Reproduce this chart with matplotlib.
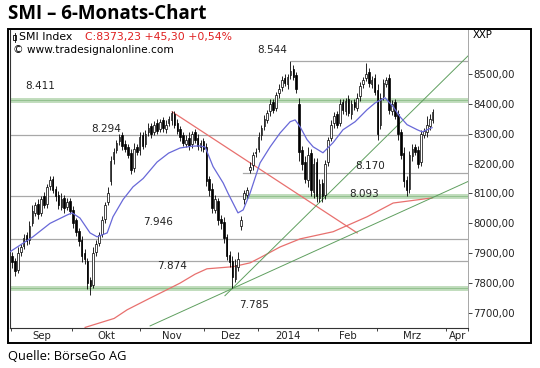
import numpy as np
import matplotlib.pyplot as plt
from matplotlib.patches import Rectangle

# daily candles (index = trading day)
closes = [7870, 7840, 7900, 7920, 7950, 7940, 7990, 8040, 8060, 8030,
          8080, 8060, 8120, 8145, 8110, 8090, 8060, 8080, 8050, 8070,
          8040, 8000, 7970, 7940, 7890, 7880, 7800, 7790, 7900, 7930,
          7960, 8010, 8060, 8100, 8210, 8240, 8270, 8290, 8260, 8250,
          8230, 8180, 8250, 8240, 8290, 8260, 8300, 8320, 8300, 8330,
          8310, 8340, 8320, 8330, 8350, 8370, 8330, 8310, 8290, 8270,
          8280, 8260, 8300, 8280, 8260, 8270, 8250, 8140, 8110, 8050,
          8080, 8010, 8000, 7950, 7890, 7870, 7820, 7860, 7880, 8010,
          8100, 8110, 8190, 8230, 8240, 8290, 8320, 8350, 8370, 8400,
          8380, 8430, 8450, 8480, 8470, 8490, 8510, 8490, 8450, 8240,
          8200, 8150, 8230, 8110, 8200, 8090, 8130, 8090, 8200, 8280,
          8330, 8360, 8330, 8400, 8380, 8410, 8370, 8400, 8390, 8420,
          8460, 8480, 8500, 8470, 8480, 8440, 8300, 8420, 8470, 8480,
          8380, 8400, 8360, 8300, 8230, 8140, 8110, 8230, 8250, 8240,
          8200, 8300, 8310, 8330, 8350, 8373.23]
opens = [7890, 7875, 7845, 7905, 7925, 7960, 7945, 8000, 8035, 8065,
         8035, 8090, 8065, 8125, 8150, 8115, 8095, 8055, 8085, 8055,
         8075, 8045, 8010, 7975, 7945, 7900, 7875, 7810, 7795, 7905,
         7935, 7965, 8015, 8070, 8140, 8215, 8245, 8275, 8295, 8265,
         8255, 8235, 8185, 8255, 8245, 8295, 8265, 8305, 8325, 8305,
         8335, 8315, 8345, 8315, 8335, 8345, 8365, 8335, 8315, 8295,
         8265, 8285, 8265, 8305, 8285, 8255, 8275, 8255, 8150, 8115,
         8045, 8075, 8015, 8005, 7955, 7895, 7875, 7815, 7855, 7990,
         8080, 8095, 8180, 8195, 8235, 8250, 8295, 8325, 8345, 8375,
         8405, 8385, 8435, 8455, 8485, 8465, 8495, 8515, 8495, 8400,
         8245, 8205, 8145, 8235, 8105, 8205, 8085, 8135, 8095, 8205,
         8285, 8335, 8365, 8335, 8405, 8375, 8415, 8365, 8405, 8385,
         8425, 8465, 8485, 8505, 8465, 8485, 8445, 8330, 8425, 8465,
         8485, 8375, 8405, 8365, 8305, 8235, 8145, 8115, 8225, 8255,
         8245, 8205, 8295, 8305, 8325, 8345]
# wick lengths above / below the body
up_wick = [15, 10, 20, 12, 15, 10, 18, 20, 12, 15,
           10, 15, 12, 15, 8, 10, 12, 20, 10, 15,
           10, 12, 8, 10, 12, 15, 10, 12, 20, 15,
           10, 15, 12, 20, 15, 12, 10, 8, 12, 15,
           10, 15, 20, 12, 15, 10, 12, 15, 10, 12,
           15, 10, 12, 15, 10, 5, 10, 15, 12, 10,
           15, 20, 10, 12, 15, 10, 12, 15, 10, 20,
           15, 10, 12, 15, 10, 12, 15, 20, 25, 15,
           10, 12, 15, 10, 12, 15, 10, 12, 10, 15,
           12, 10, 15, 12, 15, 10, 34, 15, 12, 20,
           15, 20, 25, 15, 20, 15, 20, 15, 12, 10,
           15, 12, 10, 15, 12, 10, 15, 12, 10, 15,
           12, 10, 37, 15, 12, 15, 20, 15, 12, 10,
           15, 12, 10, 15, 12, 20, 15, 12, 15, 10,
           15, 12, 10, 30, 15, 10]
low_wick = [20, 15, 12, 15, 10, 12, 15, 10, 12, 15,
            12, 10, 15, 12, 10, 15, 12, 10, 15, 12,
            10, 15, 12, 15, 20, 15, 20, 30, 12, 15,
            10, 12, 15, 10, 12, 15, 10, 12, 15, 10,
            12, 15, 12, 10, 15, 12, 10, 12, 15, 10,
            12, 10, 15, 12, 10, 15, 12, 10, 15, 12,
            10, 15, 12, 10, 15, 12, 10, 15, 20, 15,
            12, 15, 20, 15, 12, 15, 35, 12, 15, 12,
            15, 12, 10, 15, 12, 10, 15, 12, 10, 15,
            12, 10, 15, 12, 10, 15, 12, 10, 15, 30,
            20, 15, 25, 20, 20, 20, 15, 20, 15, 12,
            10, 15, 12, 10, 15, 12, 10, 15, 12, 10,
            15, 12, 10, 15, 12, 10, 20, 15, 12, 10,
            15, 12, 10, 20, 15, 20, 17, 12, 15, 10,
            15, 12, 10, 15, 12, 10]

# moving averages (blue short, red long)
blue_x = [-0.7, 7.2, 13.1, 19.0, 20.7, 23.4, 26.9, 29.3, 32.8, 34.8, 38.3, 41.7,
          45.2, 50.0, 54.0, 57.9, 62.0, 64.8, 66.6, 69.3, 72.8, 74.5, 77.9, 79.7,
          82.1, 85.5, 89.0, 92.4, 95.9, 97.6, 99.3, 101.7, 103.8, 107.2, 110.7,
          114.1, 118.3, 122.4, 125.2, 128.6, 131.4, 133.8, 136.2, 139.7, 141.4, 144.8]
blue_y = [7905, 7955, 8000, 8028, 8035, 8018, 7968, 7955, 7968, 8022, 8080, 8122,
          8150, 8205, 8235, 8252, 8258, 8259, 8255, 8190, 8135, 8100, 8035, 8045,
          8102, 8202, 8256, 8302, 8340, 8346, 8323, 8280, 8256, 8236, 8270,
          8313, 8340, 8380, 8403, 8420, 8390, 8356, 8330, 8313, 8306, 8320]
red_x = [25.2, 35.2, 39.7, 47.2, 52.8, 57.9, 63.1, 67.2, 76.2, 82.1, 85.5,
         92.4, 99.3, 110.7, 122.4, 131.4, 144.8]
red_y = [7652, 7682, 7711, 7748, 7775, 7800, 7830, 7848, 7855, 7868, 7885,
         7921, 7948, 7972, 8022, 8068, 8085]

# trend lines
down_x, down_y = [55.2, 119.0], [8373, 7968]
steep_x, steep_y = [73.4, 157.2], [7758, 8560]
flat_x, flat_y = [47.6, 157.2], [7657, 8140]

# horizontal levels
levels = [8544, 8411, 8294, 8170, 8093, 7946, 7874, 7785]
level_labels = ['8.544', '8.411', '8.294', '8.170', '8.093', '7.946', '7.874', '7.785']
level_start = [96.2, None, None, 79.7, 79.7, None, None, None]
level_green = [False, True, False, False, True, False, False, True]
label_x = [89.7, 9.7, 32.4, 123.4, 121.4, 50.3, 55.2, 83.4]
label_y = [8580, 8460, 8316, 8192, 8099, 8005, 7858, 7727]

month_ticks = [-0.5, 20.7, 44.1, 66.2, 84.8, 105.5, 125.9, 149.7, 157.2]
month_names = ['Sep', 'Okt', 'Nov', 'Dez', '2014', 'Feb', 'Mrz', 'Apr']
yticks = [7700, 7800, 7900, 8000, 8100, 8200, 8300, 8400, 8500]

W, H = 540, 368
SMALL = 'DejaVu Sans'
fig = plt.figure(figsize=(W / 100, H / 100), dpi=100)
ax = fig.add_axes([10 / W, 1 - 328 / H, 458 / W, 299 / H])

XMIN, XMAX = -0.7, 157.2
GREY = '#a8a8a8'
GREEN_BAND = '#c2ddbe'
GREEN_LINE = '#5f9f5f'

for v, s, g in zip(levels, level_start, level_green):
    x0 = XMIN if s is None else s
    if g:
        ax.plot([x0, XMAX], [v, v], color=GREEN_BAND, lw=3.6, solid_capstyle='butt', zorder=1)
        ax.plot([x0, XMAX], [v, v], color='#94c290', lw=0.8, zorder=1)
    else:
        ax.plot([x0, XMAX], [v, v], color=GREY, lw=0.9, zorder=1)
# grey left part of the 8093 level
ax.plot([XMIN, 79.7], [8093, 8093], color=GREY, lw=0.9, zorder=1)

for lx, ly, t in zip(label_x, label_y, level_labels):
    ax.text(lx, ly, t, ha='center', va='center', fontsize=7.5,
            family=SMALL, color='#222222', zorder=6)

ax.plot(red_x, red_y, color='#e8706e', lw=0.9, zorder=2)
ax.plot(down_x, down_y, color='#e8706e', lw=0.9, zorder=2)
ax.plot(steep_x, steep_y, color=GREEN_LINE, lw=0.7, zorder=2)
ax.plot(flat_x, flat_y, color=GREEN_LINE, lw=0.7, zorder=2)

# candles
o = np.array(opens, dtype=float)
c = np.array(closes, dtype=float)
idx = np.arange(len(c))
hi = np.maximum(o, c) + np.array(up_wick)
lo = np.minimum(o, c) - np.array(low_wick)
ax.vlines(idx, lo, hi, color='black', lw=0.6, zorder=3)
body_col = ['white' if cc >= oo else 'black' for oo, cc in zip(o, c)]
ax.bar(idx, np.abs(c - o), bottom=np.minimum(o, c), width=0.55,
       color=body_col, edgecolor='black', linewidth=0.5, zorder=4)

ax.plot(blue_x, blue_y, color='#6868d8', lw=0.9, zorder=5)

ax.set_xlim(XMIN, XMAX)
ax.set_ylim(7650, 8650)

ax.yaxis.tick_right()
ax.set_yticks(yticks)
ax.set_yticklabels([f'{v:.2f}'.replace('.', ',') for v in yticks])
ax.tick_params(axis='y', length=3, width=0.6, pad=1, labelsize=7.3, colors='#222222')
ax.set_xticks(month_ticks)
ax.set_xticklabels([])
ax.tick_params(axis='x', which='major', length=2.5, width=0.6, color='#222222')
mids = [(a + b) / 2 for a, b in zip(month_ticks[:-1], month_ticks[1:])]
ax.set_xticks(mids, minor=True)
ax.set_xticklabels(month_names, minor=True)
ax.tick_params(axis='x', which='minor', length=0, pad=2.5, labelsize=7.3, colors='#222222')
for lab in ax.get_xticklabels(minor=True) + ax.get_yticklabels():
    lab.set_family(SMALL)

for sp in ['left', 'bottom']:
    ax.spines[sp].set_color('#333333')
    ax.spines[sp].set_linewidth(0.8)
ax.spines['right'].set_color('#999999')
ax.spines['right'].set_linewidth(0.6)
ax.spines['top'].set_visible(False)

# outer frame
fig.patches.append(Rectangle((8 / W, 1 - 343 / H), 523 / W, 314 / H, transform=fig.transFigure,
                             fill=False, edgecolor='black', lw=1.4))

fig.text(8 / W, 1 - 14 / H, 'SMI – 6-Monats-Chart', fontsize=13.5, fontweight='bold',
         family='Open Sans', va='center', ha='left')
fig.text(8 / W, 1 - 357 / H, 'Quelle: BörseGo AG', fontsize=9.3,
         family='Open Sans', va='center', ha='left')
fig.text(19 / W, 1 - 37 / H, 'SMI Index', fontsize=7.8, family=SMALL,
         va='center', ha='left')
fig.text(85 / W, 1 - 37 / H, 'C:8373,23 +45,30 +0,54%', fontsize=7.8, family=SMALL,
         va='center', ha='left', color='#e02020')
fig.text(13 / W, 1 - 50 / H, '© www.tradesignalonline.com', fontsize=7.6, family=SMALL,
         va='center', ha='left')
fig.text(473 / W, 1 - 35 / H, 'XXP', fontsize=7.3, family=SMALL,
         va='center', ha='left')
# small candle icon in front of the legend
fig.patches.append(Rectangle((13 / W, 1 - 39.5 / H), 3 / W, 4 / H, transform=fig.transFigure,
                             fill=False, edgecolor='black', lw=0.6))
fig.lines.append(plt.Line2D([14.5 / W, 14.5 / W], [1 - 42 / H, 1 - 33 / H], transform=fig.transFigure,
                            color='black', lw=0.6))

fig.savefig('out.png', dpi=100)
